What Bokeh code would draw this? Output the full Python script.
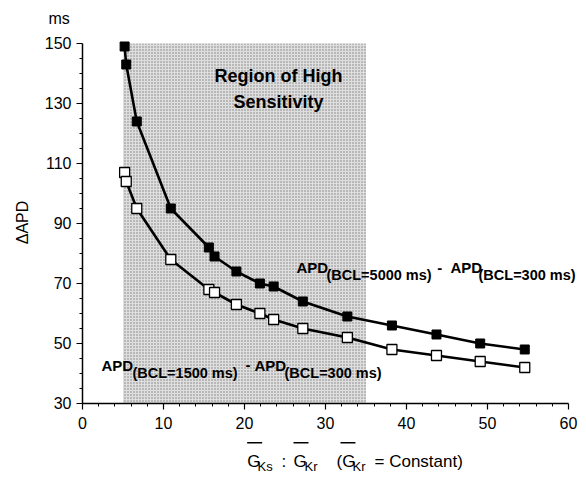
from bokeh.plotting import figure
from bokeh.models import Range1d, Label, BoxAnnotation, FixedTicker
from bokeh.embed import file_html
from bokeh.resources import INLINE

# ---- data ----
gks_ratio = [5.2, 5.4, 6.7, 10.9, 15.6, 16.3, 19.0, 21.9, 23.6, 27.2, 32.7, 38.2, 43.7, 49.1, 54.6]
apd_5000_300 = [149, 143, 124, 95, 82, 79, 74, 70, 69, 64, 59, 56, 53, 50, 48]
apd_1500_300 = [107, 104, 95, 78, 68, 67, 63, 60, 58, 55, 52, 48, 46, 44, 42]
region_x = [5, 35]
region_y = [30, 150]
x_ticks = [0, 10, 20, 30, 40, 50, 60]
y_ticks = [30, 50, 70, 90, 110, 130, 150]

FONT = "Liberation Sans"

# frame covers the whole canvas; axes are pinned at x=0 / y=30 so that every
# annotation lies inside the (clipping) frame
p = figure(width=586, height=477, x_range=Range1d(-10.123, 62.222), y_range=Range1d(5.333, 164.333),
           output_backend="svg", toolbar_location=None,
           min_border_left=0, min_border_right=0, min_border_top=0, min_border_bottom=0)
p.outline_line_color = None
p.xgrid.visible = False
p.ygrid.visible = False
p.background_fill_color = "white"
p.border_fill_color = "white"

# shaded region of high sensitivity
p.quad(left=region_x[0], right=region_x[1], bottom=region_y[0], top=region_y[1],
       fill_color="#dedede", line_color=None,
       hatch_pattern="dot", hatch_color="#808080", hatch_scale=3, hatch_weight=1)

# series
p.line(gks_ratio, apd_5000_300, line_color="black", line_width=2.6)
p.line(gks_ratio, apd_1500_300, line_color="black", line_width=2.6)
p.scatter(gks_ratio, apd_5000_300, marker="square", size=9, fill_color="black", line_color="black")
p.scatter(gks_ratio, apd_1500_300, marker="square", size=10, fill_color="white", line_color="black",
          line_width=1.3)

# axes
minor_x = [v for v in range(2, 60, 2) if v % 10 != 0]
minor_y = [v for v in range(35, 150, 5) if (v - 30) % 20 != 0]
p.xaxis.ticker = FixedTicker(ticks=x_ticks, minor_ticks=minor_x)
p.yaxis.ticker = FixedTicker(ticks=y_ticks, minor_ticks=minor_y)
p.xaxis.bounds = (x_ticks[0], x_ticks[-1])
p.yaxis.bounds = (y_ticks[0], y_ticks[-1])
p.xaxis.fixed_location = y_ticks[0]
p.yaxis.fixed_location = x_ticks[0]
for ax in (p.xaxis, p.yaxis):
    ax.axis_line_width = 1.5
    ax.axis_line_color = "black"
    ax.major_tick_line_color = "black"
    ax.minor_tick_line_color = "black"
    ax.major_tick_line_width = 1.2
    ax.minor_tick_line_width = 1
    ax.major_tick_out = 6
    ax.major_tick_in = 0
    ax.minor_tick_out = 3
    ax.minor_tick_in = 0
    ax.major_label_text_font = FONT
    ax.major_label_text_font_size = "16px"
    ax.major_label_text_color = "black"
p.xaxis.major_label_standoff = 8
p.yaxis.major_label_standoff = 5


def lab(x, y, text, size="16px", bold=False, align="left", baseline="alphabetic", angle=0.0):
    p.add_layout(Label(x=x, y=y, text=text, text_font=FONT, text_font_size=size,
                       text_font_style="bold" if bold else "normal", text_color="black",
                       text_align=align, text_baseline=baseline, angle=angle))


# unit and y label
lab(-4.2, 158.33, "ms", size="16px")
lab(-7.41, 90.33, "ΔAPD", size="16px", align="center", baseline="middle", angle=1.5708)

# region text
lab(24.2, 139.3, "Region of High", size="18px", bold=True, align="center")
lab(24.2, 130.4, "Sensitivity", size="18px", bold=True, align="center")

# series annotations
lab(26.42, 75.33, "APD", size="15px", bold=True)
lab(30.12, 72.67, "(BCL=5000 ms)", size="14.5px", bold=True)
lab(43.8, 75.33, "-", size="15px", bold=True)
lab(45.43, 75.33, "APD", size="15px", bold=True)
lab(48.89, 72.67, "(BCL=300 ms)", size="14.5px", bold=True)

lab(2.35, 42.67, "APD", size="15px", bold=True)
lab(6.17, 40.0, "(BCL=1500 ms)", size="14.5px", bold=True)
lab(20.12, 42.67, "-", size="15px", bold=True)
lab(21.23, 42.67, "APD", size="15px", bold=True)
lab(24.94, 40.0, "(BCL=300 ms)", size="14.5px", bold=True)

# x axis label with overlines and subscripts
yb = 10.67
ys = 9.0
lab(20.33, yb, "G", size="17px")
lab(21.6, ys, "Ks", size="13px")
lab(24.57, yb, ":", size="17px")
lab(26.05, yb, "G", size="17px")
lab(27.41, ys, "Kr", size="13px")
lab(31.36, yb, "(G", size="17px")
lab(33.33, ys, "Kr", size="13px")
lab(36.05, yb, "= Constant)", size="17px")
for (l, r) in [(20.33, 22.18), (26.05, 27.90), (31.85, 33.70)]:
    p.add_layout(BoxAnnotation(left=l, right=r, top=17.17, bottom=16.67,
                               fill_color="black", fill_alpha=1, line_color=None))

open("out.html", "w").write(file_html(p, INLINE))
